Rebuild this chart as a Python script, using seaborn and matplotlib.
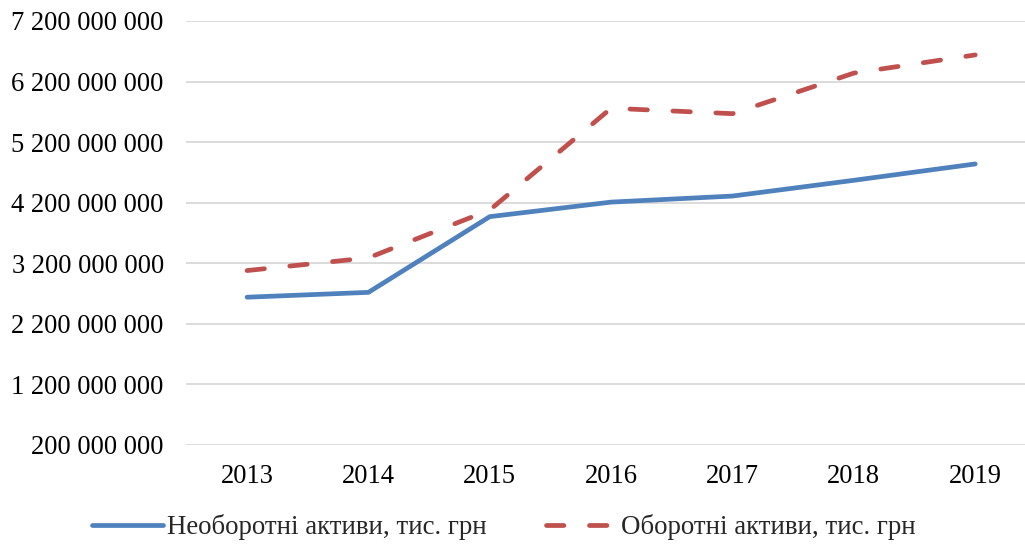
import matplotlib
matplotlib.use("Agg")
import matplotlib.pyplot as plt
import matplotlib.ticker as mticker
import seaborn as sns
import pandas as pd

years = ["2013", "2014", "2015", "2016", "2017", "2018", "2019"]
non_current = [2.64e9, 2.72e9, 3.97e9, 4.21e9, 4.31e9, 4.57e9, 4.84e9]
current = [3.08e9, 3.29e9, 4.08e9, 5.76e9, 5.67e9, 6.34e9, 6.64e9]
series_names = ["Необоротні активи, тис. грн", "Оборотні активи, тис. грн"]
y_ticks = [0.2e9, 1.2e9, 2.2e9, 3.2e9, 4.2e9, 5.2e9, 6.2e9, 7.2e9]

df = pd.DataFrame({
    "year": years * 2,
    "value": non_current + current,
    "series": [series_names[0]] * len(years) + [series_names[1]] * len(years),
})

sns.set_theme(style="white")
plt.rcParams["font.family"] = ["Liberation Serif", "DejaVu Serif"]

fig = plt.figure(figsize=(10.25, 5.44), dpi=100)
ax = fig.add_axes([186 / 1025, (544 - 445) / 544, (1025 - 186) / 1025, (445 - 21) / 544])

palette = {series_names[0]: "#4F81BD", series_names[1]: "#C0504D"}
dashes = {series_names[0]: "", series_names[1]: (3.7, 5.4)}
sns.lineplot(data=df, x="year", y="value", hue="series", style="series",
             palette=palette, dashes=dashes, linewidth=3.4, ax=ax,
             sort=False, legend=True)
for ln in ax.get_lines():
    ln.set_solid_capstyle("round")
    ln.set_dash_capstyle("round")

ax.set_ylim(0.2e9, 7.2e9)
ax.set_xlim(-0.503, 6.41)
ax.set_yticks(y_ticks)
ax.yaxis.set_major_formatter(mticker.FuncFormatter(lambda v, p: f"{int(round(v)):,}".replace(",", " ")))
ax.grid(axis="y", color="#D9D9D9", linewidth=1.3)
ax.grid(axis="x", visible=False)
ax.set_axisbelow(True)
for s in ax.spines.values():
    s.set_visible(False)
ax.tick_params(axis="both", length=0, labelsize=19.1, colors="#000000")
ax.tick_params(axis="y", pad=16)
ax.tick_params(axis="x", pad=14)
ax.set_xlabel("")
ax.set_ylabel("")

handles, labels = ax.get_legend_handles_labels()
ax.get_legend().remove()
for h in handles:
    h.set_solid_capstyle("round")
    h.set_dash_capstyle("round")
fig.legend(handles, labels, loc="center", bbox_to_anchor=(504 / 1025, 1 - 527 / 544),
           ncol=2, frameon=False, fontsize=19.4, handlelength=2.64,
           handletextpad=0.15, columnspacing=2.2)

fig.savefig("out.png", dpi=100)
